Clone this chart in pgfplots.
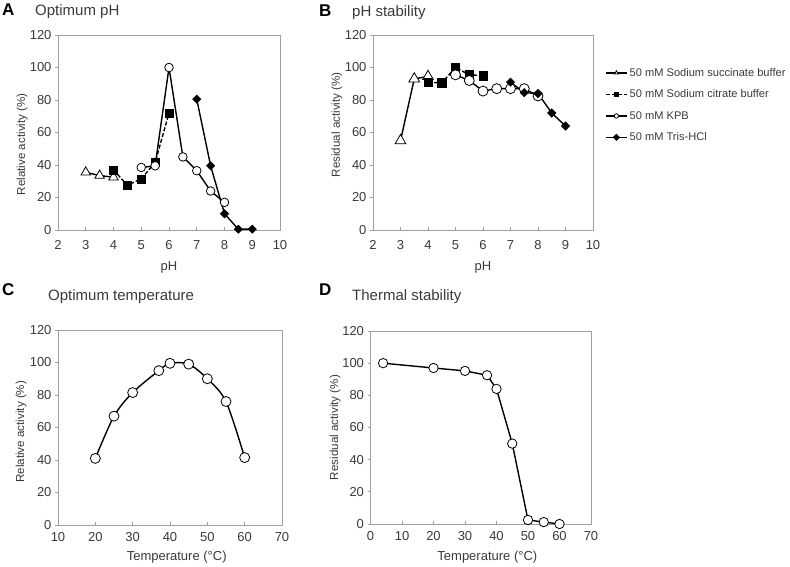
\documentclass[border=0pt]{standalone}
\usepackage{pgfplots}
\pgfplotsset{compat=1.18}
\usepackage{fontspec}
\setmainfont{Liberation Sans}
\definecolor{txt}{HTML}{3A3A3A}
\definecolor{frm}{HTML}{A0A0A0}
\pgfplotsset{
  panel/.style={
    scale only axis, clip=false,
    axis line style={frm, line width=0.8pt},
    tick style={frm, line width=0.8pt},
    major tick length=3pt,
    tick pos=left, xtick align=inside, ytick align=outside,
    ymin=0, ymax=120, ytick={0,20,...,120},
    tick label style={font=\fontsize{13}{15}\selectfont, text=txt},
    /pgf/number format/assume math mode=true,
    every axis plot/.append style={line width=1.4pt, black},
  },
  xlab/.style n args={2}{every axis x label/.style={at={(axis description cs:#1,#2)}, anchor=center, font=\fontsize{13}{15}\selectfont, text=txt}},
  ylab/.style n args={2}{every axis y label/.style={at={(axis description cs:#1,#2)}, rotate=90, anchor=center, font=\fontsize{11.6}{14}\selectfont, text=txt}},
  tri/.style={mark=triangle*, mark size=#1, mark options={fill=white, draw=black, line width=0.8pt, solid}},
  sq/.style={mark=square*, mark size=#1, mark options={fill=black, draw=black, line width=0.6pt, solid}},
  circ/.style={mark=*, mark size=#1, mark options={fill=white, draw=black, line width=0.8pt, solid}},
  dia/.style={mark=square*, mark size=#1, mark options={fill=black, draw=black, line width=0.6pt, solid, rotate=45}},
}
\begin{document}
\begin{tikzpicture}
\useasboundingbox (0,0) rectangle (790pt,-566pt);
% titles
\node[anchor=base west, inner sep=0pt, font=\bfseries\fontsize{17}{19}\selectfont] at (2pt,-15pt) {A};
\node[anchor=base west, inner sep=0pt, font=\fontsize{15}{17}\selectfont, text=txt] at (35pt,-15.5pt) {Optimum pH};
\node[anchor=base west, inner sep=0pt, font=\bfseries\fontsize{17}{19}\selectfont] at (319pt,-16pt) {B};
\node[anchor=base west, inner sep=0pt, font=\fontsize{15}{17}\selectfont, text=txt] at (352pt,-16pt) {pH stability};
\node[anchor=base west, inner sep=0pt, font=\bfseries\fontsize{17}{19}\selectfont] at (2pt,-295pt) {C};
\node[anchor=base west, inner sep=0pt, font=\fontsize{15}{17}\selectfont, text=txt] at (48pt,-300pt) {Optimum temperature};
\node[anchor=base west, inner sep=0pt, font=\bfseries\fontsize{17}{19}\selectfont] at (319pt,-295pt) {D};
\node[anchor=base west, inner sep=0pt, font=\fontsize{15}{17}\selectfont, text=txt] at (352pt,-300pt) {Thermal stability};

% ---------- A ----------
\begin{axis}[panel, at={(58pt,-230pt)}, anchor=south west, width=222pt, height=195pt,
  xmin=2, xmax=10, xtick={2,...,10}, xticklabel style={yshift=-7pt},
  xlabel={pH}, ylabel={Relative activity (\%)},
  xlab={0.5}{-0.19}, ylab={-0.162}{0.44}]
\addplot[tri=5.5pt] coordinates {(3,35.5) (3.5,33.5) (4,32.5)};
\addplot[sq=4pt, dash pattern=on 4pt off 2pt] coordinates {(4,37) (4.5,27.5) (5,31.5) (5.5,41.5) (6,72)};
\addplot[circ=4.3pt] coordinates {(5,38.5) (5.5,39.5) (6,100) (6.5,45) (7,36.5) (7.5,24) (8,17)};
\addplot[dia=2.9pt] coordinates {(7,80.5) (7.5,39.5) (8,10) (8.5,0.5) (9,0.5)};
\end{axis}

% ---------- B ----------
\begin{axis}[panel, at={(373pt,-230pt)}, anchor=south west, width=220pt, height=195pt,
  xmin=2, xmax=10, xtick={2,...,10}, xticklabel style={yshift=-7pt},
  xlabel={pH}, ylabel={Residual activity (\%)},
  xlab={0.5}{-0.19}, ylab={-0.164}{0.54},
  legend style={draw=none, fill=none, at={(rel axis cs:1,1)}, anchor=north west,
    xshift=12pt, yshift=-31pt, inner sep=0pt,
    font=\fontsize{11.1}{13}\selectfont, text=txt, row sep=8pt,
    cells={anchor=west}},
  legend image code/.code={
    \draw[#1, mark=none] (0pt,0pt) -- (21pt,0pt);
    \draw[#1, only marks, mark size=2.2pt] plot coordinates {(10.5pt,0pt)};}]
\addplot[tri=6.2pt] coordinates {(3,55) (3.5,93) (4,94.5)};
\addlegendentry{50 mM Sodium succinate buffer}
\addplot[sq=4.2pt, dash pattern=on 4pt off 2pt] coordinates {(4,91) (4.5,90.5) (5,100) (5.5,95.5) (6,95)};
\addlegendentry{50 mM Sodium citrate buffer}
\addplot[circ=5pt] coordinates {(5,95.5) (5.5,92) (6,85.5) (6.5,87) (7,87) (7.5,87) (8,82.5)};
\addlegendentry{50 mM KPB}
\addplot[dia=2.9pt] coordinates {(7,91) (7.5,84.5) (8,84) (8.5,72) (9,64)};
\addlegendentry{50 mM Tris-HCl}
\end{axis}

% ---------- C ----------
\begin{axis}[panel, at={(58pt,-525pt)}, anchor=south west, width=224pt, height=195pt,
  xmin=10, xmax=70, xtick={10,20,...,70}, xticklabel style={yshift=-4pt},
  xlabel={Temperature (°C)}, ylabel={Relative activity (\%)},
  xlab={0.53}{-0.165}, ylab={-0.165}{0.478}]
\addplot[circ=5pt, smooth] coordinates {(20,41) (25,67) (30,81.5) (37,95) (40,99.5) (45,99) (50,90) (55,76) (60,41.5)};
\end{axis}

% ---------- D ----------
\begin{axis}[panel, at={(370.5pt,-524pt)}, anchor=south west, width=220.5pt, height=193pt,
  xmin=0, xmax=70, xtick={0,10,...,70}, xticklabel style={yshift=-4pt},
  xlabel={Temperature (°C)}, ylabel={Residual activity (\%)},
  xlab={0.53}{-0.17}, ylab={-0.16}{0.50}]
\addplot[circ=4.7pt] coordinates {(4,100) (20,97) (30,95.2) (37,92.5) (40,84) (45,50) (50,2.5) (55,1.2) (60,0)};
\end{axis}
\end{tikzpicture}
\end{document}
